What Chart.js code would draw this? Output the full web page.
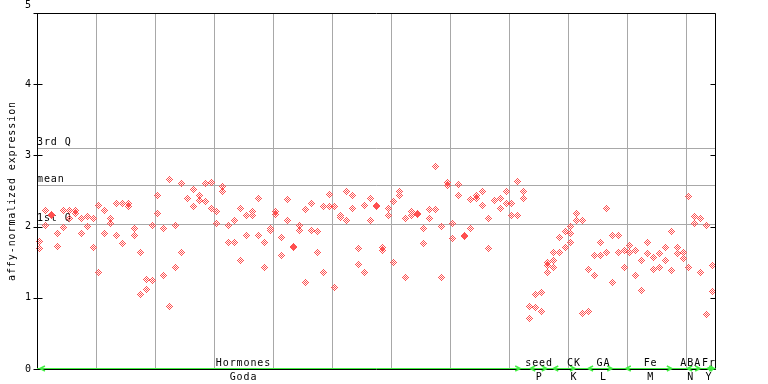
<!DOCTYPE html>
<html><head><meta charset="utf-8">
<script src="https://cdn.jsdelivr.net/npm/chart.js@4"></script>
<style>html,body{margin:0;padding:0;background:#fff;}#wrap{width:768px;height:384px;position:relative;}</style>
</head><body><div id="wrap"><canvas id="c" width="768" height="384"></canvas></div>
<script>
const sampleCount = 115;
const rep1 = [1.79,2.22,2.17,1.91,2.23,2.23,2.22,2.11,2.14,2.12,
2.29,2.23,2.11,2.33,2.33,2.32,1.97,1.63,1.26,2.02,
2.43,1.97,2.66,2.01,2.60,2.40,2.52,2.44,2.60,2.62,
2.21,2.57,2.02,2.08,2.25,2.15,2.21,2.39,1.78,1.97,
2.21,1.84,2.38,1.72,2.01,2.24,2.32,1.93,2.28,2.45,
2.28,2.16,2.50,2.43,1.69,2.29,2.40,2.28,1.71,2.25,
2.35,2.50,2.11,2.21,2.18,1.97,2.24,2.84,2.00,2.62,
2.04,2.59,1.88,2.38,2.43,2.49,2.12,2.37,2.39,2.50,
2.33,2.64,2.50,0.88,1.05,1.07,1.49,1.63,1.84,1.93,
2.00,2.18,2.08,1.40,1.59,1.77,2.25,1.88,1.87,1.67,
1.74,1.67,1.52,1.77,1.56,1.62,1.71,1.93,1.71,1.64,
2.42,2.14,2.12,2.02,1.45];
const rep2 = [1.69,2.02,2.15,1.72,1.99,2.11,2.18,1.91,2.00,1.70,
1.35,1.90,2.05,1.87,1.76,2.28,1.87,1.05,1.11,1.24,
2.18,1.32,0.88,1.43,1.64,null,2.28,2.36,2.35,2.25,
2.04,2.49,1.78,1.78,1.52,1.88,2.15,1.88,1.43,1.94,
2.17,1.60,2.08,1.70,1.94,1.22,1.95,1.64,1.36,2.28,
1.15,2.13,2.08,2.25,1.47,1.36,2.08,2.29,1.66,2.15,
1.50,2.43,1.29,2.15,2.17,1.76,2.12,2.24,1.28,2.58,
1.83,2.43,1.86,1.98,2.40,2.29,1.69,2.36,2.25,2.32,
2.15,2.16,2.39,0.71,0.87,0.81,1.45,1.52,1.64,1.71,
1.91,2.09,0.78,0.81,1.32,1.59,1.63,1.22,1.64,1.43,
1.64,1.31,1.10,1.62,1.40,1.43,1.53,1.38,1.62,1.55,
1.43,2.04,1.35,0.77,1.09];
const rep3Index = [86,87,90];
const rep3Value = [1.36,1.43,1.77];
const yTicks = [0,1,2,3,4,5];
const refValues = [3.11,2.59,2.04];
const refLabels = ['3rd Q','mean','1st Q'];
const groupTop = ['Hormones','seed','CK','GA','Fe','ABA','Fr'];
const groupBottom = ['Goda','P','K','L','M','N','Y'];
const groupStart = [0.5,83.6,87.5,93.4,99.8,110.2,113.6];
const groupEnd = [81.9,86.4,91.2,97.5,107.6,112.4,114.8];
const groupLabelAt = [35.0,85.1,91.0,96.0,104.0,110.8,113.9];
const gridEvery = 10;
const yTitle = 'affy-normalized expression';

function makeDiamond(color){
  const c=document.createElement('canvas'); c.width=7; c.height=7;
  const g=c.getContext('2d'); g.fillStyle=color;
  for(let dy=-3;dy<=3;dy++)for(let dx=-3;dx<=3;dx++){
    if(Math.abs(dx)+Math.abs(dy)<=3 && ((dx+dy)&1)) g.fillRect(dx+3,dy+3,1,1);
  }
  return c;
}
const diamond = makeDiamond('#ff5050');

function toPts(arr){ const out=[]; arr.forEach((v,i)=>{ if(v!=null) out.push({x:i+0.5,y:v}); }); return out; }
const pts3 = rep3Index.map((idx,k)=>({x:idx+0.5,y:rep3Value[k]}));

const FONT='10px "DejaVu Sans Mono", "Liberation Mono", monospace';
const framePlugin = {
  id:'frame',
  beforeDatasetsDraw(chart){
    const {ctx, chartArea:a, scales:{x,y}} = chart;
    ctx.save();
    ctx.strokeStyle='#a8a8a8'; ctx.lineWidth=1;
    for(let v=gridEvery; v<sampleCount; v+=gridEvery){
      const px=Math.round(x.getPixelForValue(v))+0.5;
      ctx.beginPath(); ctx.moveTo(px,a.top); ctx.lineTo(px,a.bottom); ctx.stroke();
    }
    refValues.forEach(v=>{
      const py=Math.round(y.getPixelForValue(v))+0.5;
      ctx.beginPath(); ctx.moveTo(a.left,py); ctx.lineTo(a.right,py); ctx.stroke();
    });
    ctx.fillStyle='#000'; ctx.font=FONT; ctx.letterSpacing='0.9px';
    ctx.textAlign='left'; ctx.textBaseline='alphabetic';
    refValues.forEach((v,k)=>{
      const py=y.getPixelForValue(v);
      ctx.fillText(refLabels[k], a.left, py-2.5);
    });
    ctx.restore();
    ctx.imageSmoothingEnabled=false;
  },
  afterDatasetsDraw(chart){
    const {ctx, chartArea:a, scales:{x,y}} = chart;
    ctx.save();
    ctx.strokeStyle='#000'; ctx.lineWidth=1;
    const L=Math.round(a.left)+0.5, R=Math.round(a.right)-0.5, T=Math.round(a.top)+0.5, B=Math.round(a.bottom)+0.5;
    ctx.beginPath(); ctx.moveTo(L,T); ctx.lineTo(R,T); ctx.lineTo(R,B); ctx.lineTo(L,B); ctx.closePath(); ctx.stroke();
    yTicks.forEach(v=>{
      const py=Math.round(y.getPixelForValue(v))+0.5;
      ctx.beginPath(); ctx.moveTo(L-4,py); ctx.lineTo(L+5,py); ctx.stroke();
      ctx.beginPath(); ctx.moveTo(R-5,py); ctx.lineTo(R,py); ctx.stroke();
    });
    // green group arrows
    ctx.strokeStyle='#44ee44'; ctx.lineWidth=1;
    const gy=B-1;
    ctx.beginPath(); ctx.moveTo(a.left,gy); ctx.lineTo(R,gy); ctx.stroke();
    ctx.lineWidth=1.5;
    groupStart.forEach((s,k)=>{
      const xs=x.getPixelForValue(s), xe=x.getPixelForValue(groupEnd[k]);
      ctx.beginPath(); ctx.moveTo(xs+5,gy-2.5); ctx.lineTo(xs,gy); ctx.lineTo(xs+5,gy+2.5); ctx.stroke();
      ctx.beginPath(); ctx.moveTo(xe-5,gy-2.5); ctx.lineTo(xe,gy); ctx.lineTo(xe-5,gy+2.5); ctx.stroke();
    });
    // labels
    ctx.fillStyle='#000'; ctx.font=FONT; ctx.letterSpacing='0.9px';
    ctx.textAlign='center'; ctx.textBaseline='alphabetic';
    groupLabelAt.forEach((v,k)=>{
      const px=x.getPixelForValue(v);
      ctx.fillText(groupTop[k], px, a.bottom-3);
      ctx.fillText(groupBottom[k], px, a.bottom+11);
    });
    ctx.letterSpacing='0px';
    ctx.textAlign='right'; ctx.textBaseline='middle';
    yTicks.forEach(v=>{
      let py=y.getPixelForValue(v);
      if(v===yTicks[yTicks.length-1]) py-=8;
      ctx.fillText(String(v), 31, py);
    });
    ctx.letterSpacing='0.9px';
    ctx.translate(12,(a.top+a.bottom)/2); ctx.rotate(-Math.PI/2);
    ctx.textAlign='center'; ctx.textBaseline='middle';
    ctx.fillText(yTitle,0,0);
    ctx.restore();
  }
};

const dsBase = {pointStyle:diamond, pointRadius:3.5, pointHoverRadius:3.5, showLine:false, clip:false};
new Chart(document.getElementById('c').getContext('2d'), {
  type:'scatter',
  data:{datasets:[
    Object.assign({data:toPts(rep1)}, dsBase),
    Object.assign({data:toPts(rep2)}, dsBase),
    Object.assign({data:pts3}, dsBase)
  ]},
  options:{
    responsive:false, animation:false, devicePixelRatio:1, events:[],
    layout:{padding:{left:37,right:52.5,top:13,bottom:15}},
    scales:{
      x:{type:'linear',min:0,max:sampleCount,display:false},
      y:{type:'linear',min:0,max:5,display:false}
    },
    plugins:{legend:{display:false},tooltip:{enabled:false}}
  },
  plugins:[framePlugin]
});
</script>
</body></html>
